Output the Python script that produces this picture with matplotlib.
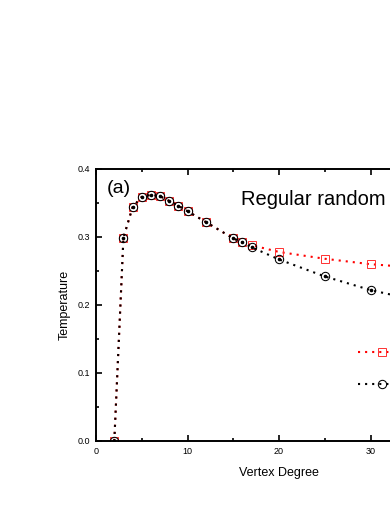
import matplotlib
matplotlib.use('Agg')
import matplotlib.pyplot as plt
from matplotlib.ticker import MultipleLocator, FixedLocator

plt.rcParams['font.family'] = ['Liberation Sans', 'DejaVu Sans']

# vertex degree
deg = [2, 3, 4, 5, 6, 7, 8, 9, 10, 12, 15, 16, 17, 20, 25, 30, 35]
# black circles
temp_circ = [0.0, 0.299, 0.344, 0.359, 0.362, 0.360, 0.353, 0.346, 0.338,
             0.322, 0.298, 0.292, 0.285, 0.267, 0.242, 0.222, 0.207]
# red squares
temp_sq = [0.0, 0.299, 0.344, 0.359, 0.362, 0.360, 0.353, 0.346, 0.338,
           0.322, 0.298, 0.292, 0.288, 0.278, 0.268, 0.260, 0.255]
x_ticks = [0, 10, 20, 30]

fig = plt.figure(figsize=(3.9, 5.05), dpi=100)
ax = fig.add_axes([96/390, 64/505, 366/390, 272/505])

dots = (0, (1, 2.4))
l_sq, = ax.plot(deg, temp_sq, color='red', lw=1.5, linestyle=dots,
                marker='s', ms=5.8, mfc='none', mec='#ff3030', mew=0.7)
l_ci, = ax.plot(deg, temp_circ, color='black', lw=1.5, linestyle=dots,
                marker='o', ms=6, mfc='none', mec='black', mew=0.75)
ax.plot(deg, temp_circ, ls='none', marker='o', ms=1.6, color='black')

ax.set_xlim(0, 40)
ax.set_ylim(0, 0.4)
ax.xaxis.set_major_locator(FixedLocator(x_ticks))
ax.xaxis.set_minor_locator(MultipleLocator(5))
ax.yaxis.set_major_locator(MultipleLocator(0.1))
ax.yaxis.set_minor_locator(MultipleLocator(0.05))
ax.yaxis.set_major_formatter(plt.FormatStrFormatter('%.1f'))
ax.tick_params(which='both', direction='in', top=True, right=True,
               labelsize=6.5, width=1.2)
ax.tick_params(which='major', length=4, pad=4)
ax.tick_params(which='minor', length=2.5)
for s in ax.spines.values():
    s.set_linewidth(1.4)

ax.set_xlabel('Vertex Degree', fontsize=9, labelpad=8)
ax.set_ylabel('Temperature', fontsize=9, labelpad=5)

ax.text(0.03, 0.96, '(a)', transform=ax.transAxes, fontsize=14, va='top')
ax.text(241/390, 1 - 205/505, 'Regular random', transform=fig.transFigure,
        fontsize=14.5, va='baseline')

leg = ax.legend([l_sq, l_ci], ['', ''], loc='upper left',
                bbox_to_anchor=(358/390, 1 - 348/505),
                bbox_transform=fig.transFigure, frameon=False, fontsize=8,
                handlelength=4.3, borderpad=0, borderaxespad=0,
                labelspacing=2.0)

fig.savefig('out.png', dpi=100)
